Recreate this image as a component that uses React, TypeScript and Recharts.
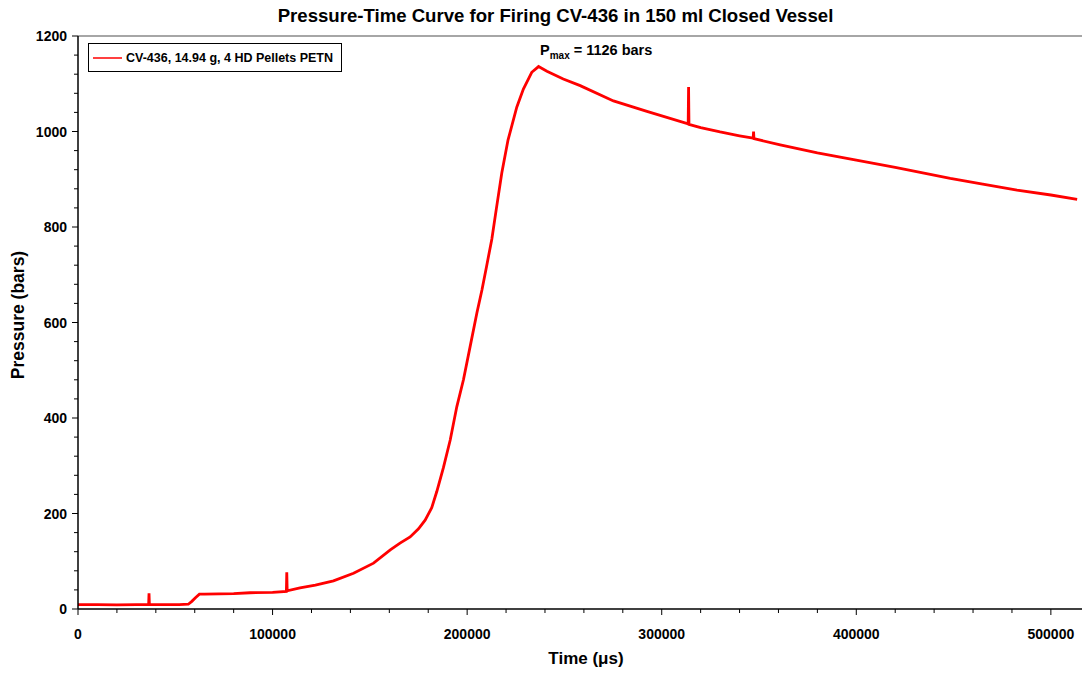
import React from "react";
import {
  LineChart,
  Line,
  XAxis,
  YAxis,
  ReferenceLine,
} from "recharts";

// time in microseconds, pressure in bars
const timeUs = [
  0, 10000, 20000, 30000, 36300, 36500, 36700, 45000, 52000, 56700, 58500,
  60500, 62400, 65000, 80000, 88400, 100000, 107100, 107300, 107500, 114100,
  122000, 131300, 141600, 151900, 160500, 165500, 170700, 175000, 178400,
  181800, 184400, 187800, 191300, 194700, 198100, 201500, 205000, 207600,
  210000, 212700, 215000, 217800, 221000, 225500, 228900, 233200, 236700,
  241000, 249400, 258100, 275200, 292400, 313600, 313800, 314000, 320000,
  330000, 340000, 347000, 347200, 347400, 360900, 380000, 400000, 420000,
  448300, 465000, 482600, 500000, 513500,
];

const pressureBar = [
  9, 9, 8.5, 9, 9, 33, 9, 9, 9, 10, 16,
  24, 31, 31, 32, 34, 35, 37, 77, 38, 44,
  50, 59, 75, 96, 124, 138, 151, 168, 186,
  212, 246, 296, 354, 424, 480, 549, 620, 668,
  718, 775, 838, 913, 982, 1051, 1089, 1124, 1136,
  1126, 1110, 1096, 1064, 1042, 1016, 1093, 1015, 1008,
  999, 991, 986, 1000, 985, 972, 955, 940, 925,
  902, 890, 877, 867, 858,
];

const xTicks = Array.from({ length: 26 }, (_, i) => i * 20000);
const yTicks = Array.from({ length: 31 }, (_, i) => i * 40);

const seriesName = "CV-436, 14.94 g, 4 HD Pellets PETN";
const titleText = "Pressure-Time Curve for Firing CV-436 in 150 ml Closed Vessel";

const data = timeUs.map((t, i) => ({ t, p: pressureBar[i] }));

const FONT = "'Liberation Sans', Arial, Helvetica, sans-serif";

const XTick = (props: any) => {
  const { x, y, payload } = props;
  const major = payload.value % 100000 === 0;
  return (
    <g>
      <line x1={x} x2={x} y1={y} y2={y + (major ? 6 : 4)} stroke="#000" strokeWidth={1} />
      {major && (
        <text
          x={x}
          y={y + 30}
          textAnchor="middle"
          fontFamily={FONT}
          fontWeight="bold"
          fontSize={14}
          fill="#000"
        >
          {payload.value}
        </text>
      )}
    </g>
  );
};

const YTick = (props: any) => {
  const { x, y, payload } = props;
  const major = payload.value % 200 === 0;
  return (
    <g>
      <line x1={x - (major ? 6 : 4)} x2={x} y1={y} y2={y} stroke="#000" strokeWidth={1} />
      {major && (
        <text
          x={x - 11}
          y={y + 5}
          textAnchor="end"
          fontFamily={FONT}
          fontWeight="bold"
          fontSize={14}
          fill="#000"
        >
          {payload.value}
        </text>
      )}
    </g>
  );
};

export default function App() {
  return (
    <div
      style={{
        position: "absolute",
        left: 0,
        top: 0,
        width: 1084,
        height: 673,
        background: "#fff",
        fontFamily: FONT,
      }}
    >
      <LineChart
        width={1084}
        height={673}
        data={data}
        margin={{ top: 36, right: 2, bottom: 0, left: 0 }}
      >
        <XAxis
          dataKey="t"
          type="number"
          domain={[0, 516000]}
          ticks={xTicks}
          interval={0}
          allowDataOverflow
          height={64}
          tickSize={0}
          tickMargin={0}
          tickLine={false}
          axisLine={{ stroke: "#000", strokeWidth: 1.5 }}
          tick={<XTick />}
        />
        <YAxis
          type="number"
          domain={[0, 1200]}
          ticks={yTicks}
          interval={0}
          width={78}
          tickSize={0}
          tickMargin={0}
          tickLine={false}
          axisLine={{ stroke: "#000", strokeWidth: 1.5 }}
          tick={<YTick />}
        />
        <ReferenceLine y={1200} stroke="#888" strokeWidth={1.5} ifOverflow="extendDomain" />
        <Line
          type="linear"
          dataKey="p"
          name={seriesName}
          stroke="#ff0000"
          strokeWidth={2.8}
          dot={false}
          isAnimationActive={false}
        />
      </LineChart>

      {/* title */}
      <div
        style={{
          position: "absolute",
          left: 0,
          width: 1111,
          top: 5,
          textAlign: "center",
          fontWeight: "bold",
          fontSize: 18.6,
          whiteSpace: "nowrap",
        }}
      >
        {titleText}
      </div>

      {/* axis titles */}
      <div
        style={{
          position: "absolute",
          left: 18,
          top: 315,
          transform: "translate(-50%, -50%) rotate(-90deg)",
          fontWeight: "bold",
          fontSize: 17.5,
          whiteSpace: "nowrap",
        }}
      >
        Pressure (bars)
      </div>
      <div
        style={{
          position: "absolute",
          left: 586,
          top: 659,
          transform: "translate(-50%, -50%)",
          fontWeight: "bold",
          fontSize: 17,
          whiteSpace: "nowrap",
        }}
      >
        Time (μs)
      </div>

      {/* P max annotation */}
      <div
        style={{
          position: "absolute",
          left: 540,
          top: 42,
          fontWeight: "bold",
          fontSize: 14.5,
          whiteSpace: "nowrap",
        }}
      >
        P<sub style={{ fontSize: 10 }}>max</sub> = 1126 bars
      </div>

      {/* legend */}
      <div
        style={{
          position: "absolute",
          left: 88,
          top: 43,
          width: 252,
          height: 27,
          border: "1px solid #000",
          display: "flex",
          alignItems: "center",
          fontWeight: "bold",
          fontSize: 12.5,
          whiteSpace: "nowrap",
        }}
      >
        <svg width={37} height={4} style={{ flexShrink: 0 }}>
          <line x1={4} x2={33} y1={2} y2={2} stroke="#ff0000" strokeWidth={1.5} />
        </svg>
        {seriesName}
      </div>
    </div>
  );
}
